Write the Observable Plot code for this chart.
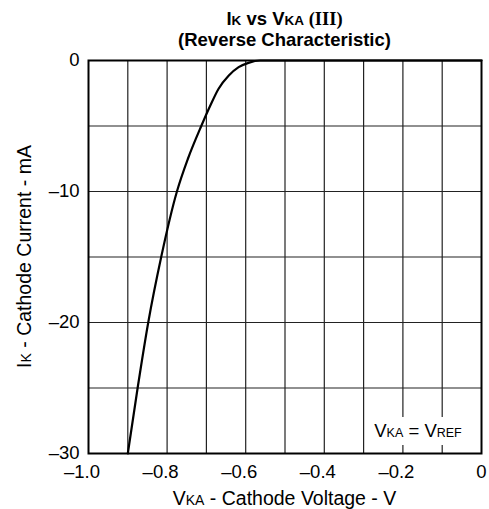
<!DOCTYPE html>
<html><head><meta charset="utf-8">
<script src="https://cdn.jsdelivr.net/npm/d3@7"></script>
<script src="https://cdn.jsdelivr.net/npm/@observablehq/plot@0.6"></script>
<style>
body{margin:0;background:#fff}
svg text{font-family:"Liberation Sans",Arial,sans-serif}
</style>
</head><body><div id="chart"></div>
<script>
// Reverse characteristic curve (V_KA in volts, I_K in mA)
const voltage = [-0.900, -0.875, -0.848, -0.815, -0.775, -0.747, -0.713, -0.690, -0.669, -0.643, -0.618, -0.593, -0.563, 0];
const current = [-30, -25, -20, -15, -10, -7.5, -5, -3.44, -2.16, -1.15, -0.51, -0.18, 0, 0];

const xTicks = [-1.0, -0.8, -0.6, -0.4, -0.2, 0];
const xGrid = [-0.9, -0.8, -0.7, -0.6, -0.5, -0.4, -0.3, -0.2, -0.1];
const yTicks = [-30, -20, -10, 0];
const yGrid = [-25, -20, -15, -10, -5];

const curve = voltage.map((v, i) => ({v, i: current[i]}));
const absFmt = d => d === 0 ? "0" : "\u2013" + d3.format(".1f")(Math.abs(d));
const fmtY = d => d === 0 ? "0" : "\u2013" + Math.abs(d);

const W = 489, H = 509;
const TICK = 18.5;
const chart = Plot.plot({
  width: W, height: H,
  marginTop: 60, marginBottom: 56, marginLeft: 88, marginRight: 8,
  style: {fontFamily: "Liberation Sans, Arial, sans-serif", fontSize: TICK + "px", background: "#fff", color: "#000"},
  x: {domain: [-1, 0], axis: null},
  y: {domain: [-30, 0], axis: null},
  marks: [
    Plot.ruleX(xGrid, {stroke: "#222", strokeWidth: 1.2}),
    Plot.ruleY(yGrid, {stroke: "#222", strokeWidth: 1.2}),
    // x tick labels: digits centred on the tick, minus hanging to the left
    Plot.text(xTicks.filter(d => d < 0), {x: d => d, text: absFmt, frameAnchor: "bottom", lineAnchor: "bottom", dy: 24, textAnchor: "start", dx: -24.5, fontSize: TICK, fill: "#000"}),
    Plot.text(xTicks.filter(d => d === 0), {x: d => d, text: absFmt, frameAnchor: "bottom", lineAnchor: "bottom", dy: 24, fontSize: TICK, fill: "#000"}),
    Plot.text(yTicks, {y: d => d, text: fmtY, frameAnchor: "left", textAnchor: "end", lineAnchor: "middle", dx: -9, fontSize: TICK, fill: "#000"}),
    Plot.line(curve, {x: "v", y: "i", stroke: "#000", strokeWidth: 2.2, curve: "monotone-x"}),
    Plot.frame({stroke: "#000", strokeWidth: 2})
  ]
});
document.getElementById("chart").appendChild(chart);

const svg = d3.select(chart);
const cx = (88 + (W - 8)) / 2;

function addRich(parent, parts, attrs) {
  const t = parent.append("text");
  Object.entries(attrs).forEach(([k, v]) => t.attr(k, v));
  parts.forEach(p => {
    const s = t.append("tspan").text(p.t);
    if (p.size) s.attr("font-size", p.size);
    if (p.family) s.attr("font-family", p.family);
    if (p.weight) s.attr("font-weight", p.weight);
  });
  return t;
}

// Title
addRich(svg, [
  {t: "I"}, {t: "K", size: "13.5px"}, {t: " vs V"}, {t: "KA", size: "13.5px"},
  {t: " (III)", family: "Liberation Serif, Times New Roman, serif"}
], {x: cx, y: 25, "text-anchor": "middle", "font-size": "18.5px", "font-weight": "bold", fill: "#000"});
addRich(svg, [{t: "(Reverse Characteristic)"}],
  {x: cx, y: 45.5, "text-anchor": "middle", "font-size": "18.5px", "font-weight": "bold", fill: "#000"});

// X label
addRich(svg, [{t: "V"}, {t: "KA", size: "14px"}, {t: " - Cathode Voltage - V"}],
  {x: cx, y: 505, "text-anchor": "middle", "font-size": "19.5px", fill: "#000"});

// Y label
addRich(svg, [{t: "I"}, {t: "K", size: "14px"}, {t: " - Cathode Current - mA"}],
  {transform: `translate(31,${(60 + 453) / 2}) rotate(-90)`, "text-anchor": "middle", "font-size": "19.5px", fill: "#000"});

// Annotation with white box
const g = svg.append("g");
const rect = g.append("rect").attr("fill", "#fff");
const ann = addRich(g, [{t: "V"}, {t: "KA", size: "12.5px"}, {t: " = V"}, {t: "REF", size: "12.5px"}],
  {x: 418, y: 437, "text-anchor": "middle", "font-size": "18.5px", fill: "#000"});
const bb = ann.node().getBBox();
rect.attr("x", bb.x - 4).attr("y", 417).attr("width", bb.width + 8).attr("height", 28);
</script>
</body></html>
